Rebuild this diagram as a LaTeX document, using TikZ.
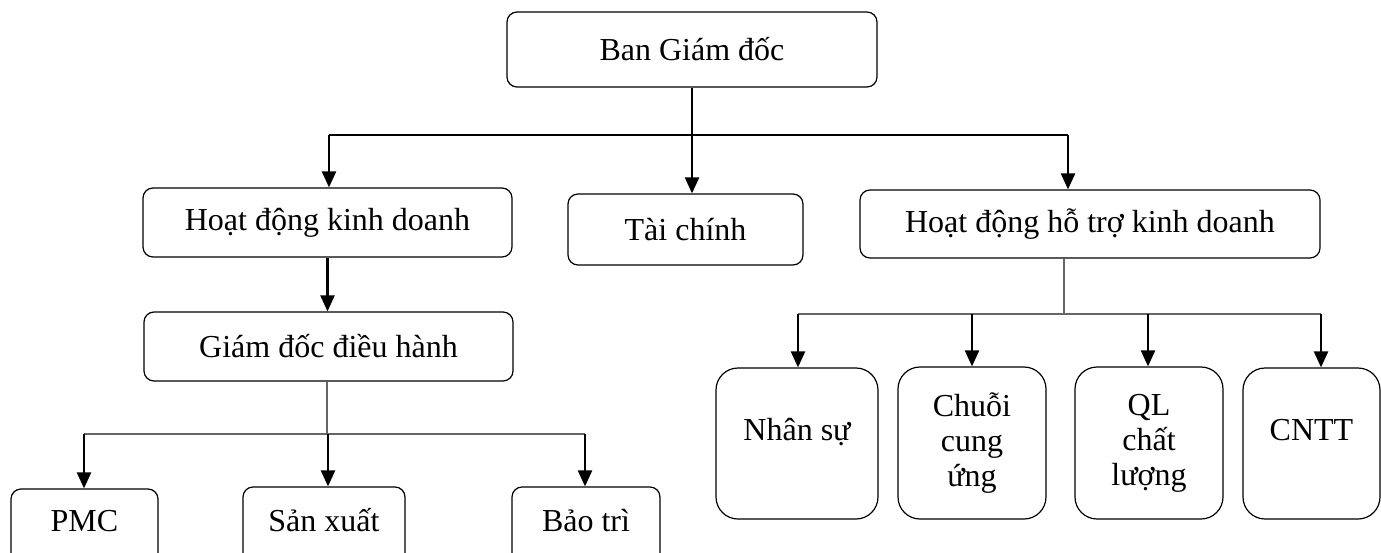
\documentclass[tikz,border=0pt]{standalone}
\usepackage{fontspec}
\setmainfont{Liberation Serif}
\usetikzlibrary{arrows.meta}
\tikzset{
  box/.style={draw=black, line width=1.2pt, rounded corners=10pt, inner sep=0pt,
    font=\fontsize{32}{35}\selectfont, align=center},
  bigbox/.style={box, rounded corners=22pt},
  thickarrow/.style={line width=2.4pt, -{Triangle[length=16pt,width=14pt]}},
  thinblack/.style={line width=1.5pt, black},
  thingray/.style={line width=1.5pt, black!60},
}
\begin{document}
\begin{tikzpicture}[x=1pt,y=-1pt]
\useasboundingbox (0,0) rectangle (1381,552);
% top
\node[box, minimum width=370pt, minimum height=75pt] (bgd) at (692,49.5) {Ban Giám đốc};
\node[box, minimum width=369pt, minimum height=69pt] (hd) at (327.5,222.5) {Hoạt động kinh doanh};
\node[box, minimum width=235pt, minimum height=71pt] (tc) at (685.5,229.5) {Tài chính};
\node[box, minimum width=460pt, minimum height=68pt] (ht) at (1090,224) {Hoạt động hỗ trợ kinh doanh};
\node[box, minimum width=369pt, minimum height=69pt] (gd) at (328.5,346.5) {Giám đốc điều hành};
% bottom left
\node[box, minimum width=147pt, minimum height=91pt, text height=22pt, text depth=29pt] (pmc) at (84.5,534.5) {PMC};
\node[box, minimum width=162pt, minimum height=93pt, text height=22pt, text depth=27pt] (sx) at (324,533.5) {Sản xuất};
\node[box, minimum width=148pt, minimum height=93pt, text height=22pt, text depth=27pt] (bt) at (586,533.5) {Bảo trì};
% bottom right
\node[bigbox, minimum width=162pt, minimum height=151pt, text height=22pt, text depth=29pt] (ns) at (797,443.5) {Nhân sự};
\node[bigbox, minimum width=148pt, minimum height=152pt] (cu) at (972,443) {Chuỗi\\cung\\ứng};
\node[bigbox, minimum width=148pt, minimum height=152pt] (ql) at (1149,443) {QL\\chất\\lượng};
\node[bigbox, minimum width=137pt, minimum height=151pt, text height=22pt, text depth=29pt] (cn) at (1311.5,443.5) {CNTT};
% junctions
\coordinate (j1L) at (329,135);
\coordinate (j1R) at (1068,135);
\coordinate (j2) at (327,434);
\coordinate (j2L) at (84,434);
\coordinate (j2M) at (328,434);
\coordinate (j2R) at (585,434);
\coordinate (j3) at (1064,314);
\coordinate (j3a) at (798,314);
\coordinate (j3b) at (972,314);
\coordinate (j3c) at (1148,314);
\coordinate (j3d) at (1321,314);
% connectors top
\draw[thinblack] (j1L) -- (j1R);
\draw[thickarrow] (bgd.south) -- (bgd.south |- tc.north);
\draw[thickarrow] (j1L) -- (j1L |- hd.north);
\draw[thickarrow] (j1R) -- (j1R |- ht.north);
\draw[thickarrow] (hd.south) -- (hd.south |- gd.north);
% lower left
\draw[thingray] (gd.south -| j2) -- (j2);
\draw[thingray] (j2L) -- (j2R);
\draw[thickarrow] (j2L) -- (j2L |- pmc.north);
\draw[thickarrow] (j2M) -- (j2M |- sx.north);
\draw[thickarrow] (j2R) -- (j2R |- bt.north);
% lower right
\draw[thingray] (ht.south -| j3) -- (j3);
\draw[thingray] (j3a) -- (j3d);
\draw[thickarrow] (j3a) -- (j3a |- ns.north);
\draw[thickarrow] (j3b) -- (j3b |- cu.north);
\draw[thickarrow] (j3c) -- (j3c |- ql.north);
\draw[thickarrow] (j3d) -- (j3d |- cn.north);
\end{tikzpicture}
\end{document}
